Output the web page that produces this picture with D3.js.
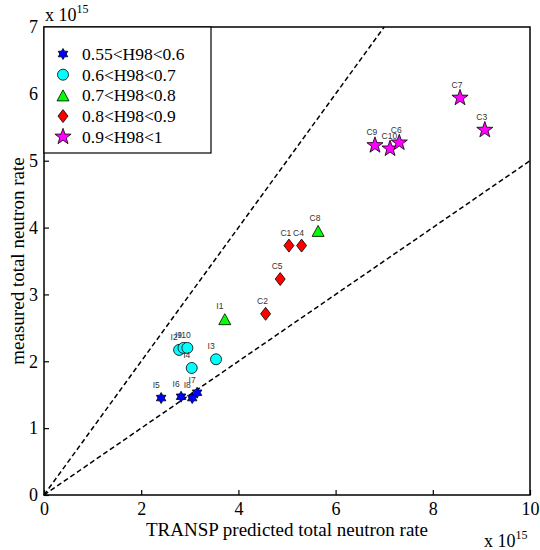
<!DOCTYPE html>
<html>
<head>
<meta charset="utf-8">
<script src="https://cdn.jsdelivr.net/npm/d3@7"></script>
<style>
  body { margin: 0; background: #fff; }
</style>
</head>
<body>
<div id="chart"></div>
<script>
// shot names, predicted (x) and measured (y) rates in units of 1e15
var shot_names = ["I5","I6","I8","I7","I2","I9","I10","I4","I3","I1","C8","C1","C4","C5","C2","C7","C3","C9","C10","C6"];
var predicted  = [2.41,2.82,3.05,3.15,2.78,2.87,2.95,3.04,3.54,3.72,5.64,5.04,5.30,4.86,4.56,8.56,9.07,6.81,7.12,7.31];
var measured   = [1.45,1.47,1.45,1.53,2.17,2.20,2.20,1.90,2.03,2.63,3.95,3.73,3.73,3.23,2.71,5.94,5.46,5.23,5.18,5.27];
var h98_group  = [0,0,0,0,1,1,1,1,1,2,2,3,3,3,3,4,4,4,4,4];

var group_labels = ["0.55<H98<0.6","0.6<H98<0.7","0.7<H98<0.8","0.8<H98<0.9","0.9<H98<1"];
var group_colors = ["#0000ff","#00ffff","#00ff00","#ff0000","#ff00ff"];

var x_ticks = [0,2,4,6,8,10];
var y_ticks = [0,1,2,3,4,5,6,7];
var ref_slopes = [1, 0.5];

var canvas_width = 540;
var canvas_height = 550;
var serif = "'Liberation Serif', 'Times New Roman', serif";

var svg = d3.select("#chart")
    .append("svg")
    .attr("width", canvas_width)
    .attr("height", canvas_height);

svg.append("rect")
    .attr("width", canvas_width)
    .attr("height", canvas_height)
    .attr("fill", "white");

var x = d3.scaleLinear().domain([0, 10]).range([44, 530]);
var y = d3.scaleLinear().domain([0, 7]).range([495, 27]);

// star polygon path (n points)
function starPath(n, R, r) {
  var pts = [];
  for (var i = 0; i < 2 * n; i++) {
    var a = -Math.PI / 2 + i * Math.PI / n;
    var rad = (i % 2 == 0) ? R : r;
    pts.push([rad * Math.cos(a), rad * Math.sin(a)]);
  }
  return "M" + pts.map(function(p) { return p[0].toFixed(2) + "," + p[1].toFixed(2); }).join("L") + "Z";
}

function markerPath(g) {
  if (g == 0) return starPath(6, 5.5, 3.2);
  if (g == 1) return d3.symbol().type(d3.symbolCircle).size(Math.PI * 5.5 * 5.5)();
  if (g == 2) return "M0,-5.5L6,5.5L-6,5.5Z";
  if (g == 3) return "M0,-6.5L5,0L0,6.5L-5,0Z";
  return starPath(5, 8.5, 3.4);
}

// dashed reference lines y = x and y = x/2
ref_slopes.forEach(function(s) {
  var x_end = Math.min(10, 7 / s);
  svg.append("line")
    .attr("x1", x(0))
    .attr("y1", y(0))
    .attr("x2", x(x_end))
    .attr("y2", y(x_end * s))
    .attr("stroke", "black")
    .attr("stroke-width", 1.5)
    .attr("stroke-dasharray", "5,3");
});

var points = d3.range(shot_names.length);

svg.selectAll(".pt")
  .data(points)
  .enter()
  .append("path")
    .attr("class", "pt")
    .attr("d", function(i) { return markerPath(h98_group[i]); })
    .attr("transform", function(i) { return "translate(" + x(predicted[i]) + "," + y(measured[i]) + ")"; })
    .attr("fill", function(i) { return group_colors[h98_group[i]]; })
    .attr("stroke", "black")
    .attr("stroke-width", 0.8);

svg.selectAll(".ptlabel")
  .data(points)
  .enter()
  .append("text")
    .attr("class", "ptlabel")
    .attr("x", function(i) { return x(predicted[i]) - 8.5; })
    .attr("y", function(i) { return y(measured[i]) - 10; })
    .text(function(i) { return shot_names[i]; })
    .attr("fill", "#333")
    .attr("font-family", "'Liberation Sans', Arial, sans-serif")
    .attr("font-size", "8.5px");

// axes, ticks pointing inward
var x_axis = d3.axisBottom(x).tickValues(x_ticks).tickSize(-5).tickPadding(7).tickFormat(d3.format("d"));
var y_axis = d3.axisLeft(y).tickValues(y_ticks).tickSize(-5).tickPadding(6).tickFormat(d3.format("d"));

var gx = svg.append("g").attr("transform", "translate(0," + y(0) + ")").call(x_axis);
var gy = svg.append("g").attr("transform", "translate(" + x(0) + ",0)").call(y_axis);

[gx, gy].forEach(function(g) {
  g.select(".domain").remove();
  g.selectAll(".tick line").attr("stroke", "black").attr("stroke-width", 1.2);
  g.selectAll(".tick text")
    .attr("fill", "black")
    .attr("font-family", serif)
    .attr("font-size", "18px");
});

// box
svg.append("rect")
    .attr("x", x(0))
    .attr("y", y(7))
    .attr("width", x(10) - x(0))
    .attr("height", y(0) - y(7))
    .attr("fill", "none")
    .attr("stroke", "black")
    .attr("stroke-width", 1.5);

// axis labels
svg.append("text")
    .attr("x", (x(0) + x(10)) / 2)
    .attr("y", 536)
    .attr("text-anchor", "middle")
    .text("TRANSP predicted total neutron rate")
    .attr("font-family", serif)
    .attr("font-size", "19px");

svg.append("text")
    .attr("transform", "translate(24," + ((y(0) + y(7)) / 2) + ") rotate(-90)")
    .attr("text-anchor", "middle")
    .text("measured total neutron rate")
    .attr("font-family", serif)
    .attr("font-size", "19px");

// exponent labels
function exponentLabel(px, py) {
  var t = svg.append("text")
      .attr("x", px)
      .attr("y", py)
      .attr("font-family", serif)
      .attr("font-size", "18px");
  t.append("tspan").text("x 10");
  t.append("tspan").attr("dy", -8).attr("font-size", "12px").text("15");
}
exponentLabel(45, 21);
exponentLabel(484, 547);

// legend
var legend = svg.append("g");
legend.append("rect")
    .attr("x", x(0))
    .attr("y", y(7))
    .attr("width", 167)
    .attr("height", 126)
    .attr("fill", "white")
    .attr("stroke", "black")
    .attr("stroke-width", 1.2);

group_labels.forEach(function(lab, g) {
  var ly = 54 + g * 20.7;
  legend.append("path")
    .attr("d", markerPath(g))
    .attr("transform", "translate(63," + ly + ")")
    .attr("fill", group_colors[g])
    .attr("stroke", "black")
    .attr("stroke-width", 0.8);
  legend.append("text")
    .attr("x", 82)
    .attr("y", ly + 6)
    .text(lab)
    .attr("font-family", serif)
    .attr("font-size", "17.5px");
});
</script>
</body>
</html>
